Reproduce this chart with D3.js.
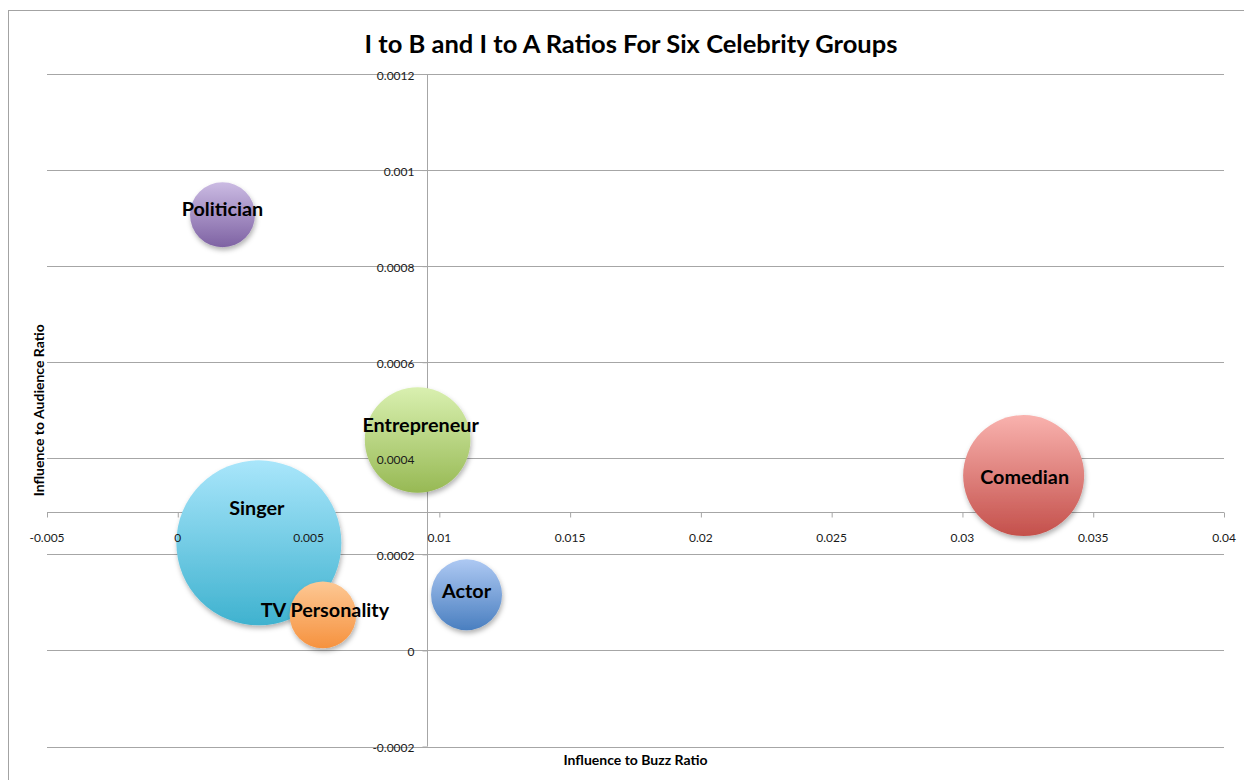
<!DOCTYPE html>
<html>
<head>
<meta charset="utf-8">
<script src="https://cdn.jsdelivr.net/npm/d3@7"></script>
<style>
  html, body { margin: 0; padding: 0; background: #fff; }
  svg { display: block; }
</style>
</head>
<body>
<svg id="chart" width="1244" height="780"></svg>
<script>
// Celebrity groups and their ratios
const groups = ["Singer", "Comedian", "Entrepreneur", "Actor", "TV Personality", "Politician"];
const buzzRatio = [0.00310, 0.03234, 0.00917, 0.01104, 0.00555, 0.00171];      // Influence to Buzz
const audienceRatio = [0.000224, 0.000364, 0.000438, 0.000116, 0.000074, 0.000907]; // Influence to Audience
const bubbleSize = [1.00, 0.538, 0.41, 0.185, 0.163, 0.155];                    // relative bubble area

const xTicks = [-0.005, 0, 0.005, 0.01, 0.015, 0.02, 0.025, 0.03, 0.035, 0.04];
const yTicks = [-0.0002, 0, 0.0002, 0.0004, 0.0006, 0.0008, 0.001, 0.0012];
const xTickLabels = ["-0.005", "0", "0.005", "0.01", "0.015", "0.02", "0.025", "0.03", "0.035", "0.04"];
const yTickLabels = ["-0.0002", "0", "0.0002", "0.0004", "0.0006", "0.0008", "0.001", "0.0012"];

// where each axis crosses the other one
const xAxisCrossesAt = 0.000288;
const yAxisCrossesAt = 0.00953;

// gradient stops: top (light) and bottom (dark) per group
const colorTop = {
  "Singer": "#a9e6fb", "Comedian": "#f9b2ae", "Entrepreneur": "#d9f0b0",
  "Actor": "#aec9f3", "TV Personality": "#fdc894", "Politician": "#cbbbe3"
};
const colorBottom = {
  "Singer": "#3fb2cf", "Comedian": "#c4504b", "Entrepreneur": "#97b954",
  "Actor": "#4a7fc0", "TV Personality": "#f6923f", "Politician": "#7e62a3"
};
// nudges for the data labels, in pixels
const labelShift = {
  "Singer": [-2, -36], "Comedian": [1, 0], "Entrepreneur": [3, -16],
  "Actor": [0, -5], "TV Personality": [2, -6], "Politician": [0, -7]
};

const font = "Lato, 'Open Sans', 'Liberation Sans', sans-serif";
const svg = d3.select("#chart");
const plot = { left: 47, right: 1224, top: 74, bottom: 746.5 };

const x = d3.scaleLinear().domain([-0.005, 0.04]).range([plot.left, plot.right]);
const y = d3.scaleLinear().domain([-0.0002, 0.0012]).range([plot.bottom, plot.top]);
const r = d3.scaleSqrt().domain([0, d3.max(bubbleSize)]).range([0, 82.5]);

const data = groups.map((g, i) => ({ name: g, x: buzzRatio[i], y: audienceRatio[i], s: bubbleSize[i] }));

// chart frame
svg.append("rect")
  .attr("x", 8.5).attr("y", 10.5).attr("width", 1300).attr("height", 800)
  .attr("fill", "#fff").attr("stroke", "#a3a3a3").attr("stroke-width", 1);

const defs = svg.append("defs");
data.forEach((d, i) => {
  const lg = defs.append("linearGradient").attr("id", "grad" + i)
    .attr("x1", 0).attr("y1", 0).attr("x2", 0).attr("y2", 1);
  lg.append("stop").attr("offset", "0%").attr("stop-color", colorTop[d.name]);
  lg.append("stop").attr("offset", "100%").attr("stop-color", colorBottom[d.name]);
});
const shadow = defs.append("filter").attr("id", "shadow")
  .attr("x", "-20%").attr("y", "-20%").attr("width", "140%").attr("height", "150%");
shadow.append("feDropShadow").attr("dx", 1).attr("dy", 3).attr("stdDeviation", 2.5)
  .attr("flood-color", "#000").attr("flood-opacity", 0.3);

// horizontal gridlines
svg.append("g").selectAll("line").data(yTicks).join("line")
  .attr("x1", plot.left).attr("x2", plot.right)
  .attr("y1", d => Math.round(y(d)) + 0.5).attr("y2", d => Math.round(y(d)) + 0.5)
  .attr("stroke", "#a6a6a6").attr("stroke-width", 1);

// horizontal axis line with outward ticks
const xAxisY = Math.round(y(xAxisCrossesAt)) + 0.5;
const xAxis = d3.axisBottom(x).tickValues(xTicks).tickFormat("").tickSize(5).tickSizeOuter(0);
const gx = svg.append("g").attr("transform", `translate(0,${xAxisY})`).call(xAxis);
gx.select(".domain").attr("stroke", "#a6a6a6").attr("d", `M${plot.left},0H${plot.right}`);
gx.selectAll(".tick line").attr("stroke", "#a6a6a6");

// vertical axis line with outward ticks
const yAxisX = Math.round(x(yAxisCrossesAt)) + 0.5;
const yAxis = d3.axisLeft(y).tickValues(yTicks).tickFormat("").tickSize(5).tickSizeOuter(0);
const gy = svg.append("g").attr("transform", `translate(${yAxisX},0)`).call(yAxis);
gy.select(".domain").attr("stroke", "#a6a6a6").attr("d", `M0,${plot.top}V${plot.bottom}`);
gy.selectAll(".tick line").attr("stroke", "#a6a6a6");

// bubbles, largest first so small ones stay on top
const sorted = data.map((d, i) => ({ ...d, i })).sort((a, b) => b.s - a.s);
svg.append("g").selectAll("circle").data(sorted).join("circle")
  .attr("cx", d => x(d.x)).attr("cy", d => y(d.y)).attr("r", d => r(d.s))
  .attr("fill", d => `url(#grad${d.i})`)
  .attr("filter", "url(#shadow)");

// tick labels above the bubbles
svg.append("g").selectAll("text").data(xTicks).join("text")
  .attr("x", d => x(d)).attr("y", xAxisY + 25)
  .attr("text-anchor", "middle").attr("dominant-baseline", "central")
  .attr("font-family", font).attr("font-size", 12).attr("fill", "#1a1a1a")
  .text((d, i) => xTickLabels[i]);

svg.append("g").selectAll("text").data(yTicks).join("text")
  .attr("x", yAxisX - 13).attr("y", d => y(d) + 1)
  .attr("text-anchor", "end").attr("dominant-baseline", "central")
  .attr("font-family", font).attr("font-size", 12).attr("fill", "#1a1a1a")
  .text((d, i) => yTickLabels[i]);

// data labels
svg.append("g").selectAll("text").data(data).join("text")
  .attr("x", d => x(d.x) + labelShift[d.name][0])
  .attr("y", d => y(d.y) + labelShift[d.name][1])
  .attr("text-anchor", "middle").attr("dominant-baseline", "central")
  .attr("font-family", font).attr("font-weight", 700).attr("font-size", 19.8)
  .attr("fill", "#000")
  .text(d => d.name);

// titles
svg.append("text")
  .attr("x", 631).attr("y", 43)
  .attr("text-anchor", "middle").attr("dominant-baseline", "central")
  .attr("font-family", font).attr("font-weight", 700).attr("font-size", 25.5)
  .text("I to B and I to A Ratios For Six Celebrity Groups");

svg.append("text")
  .attr("x", (plot.left + plot.right) / 2).attr("y", 759)
  .attr("text-anchor", "middle").attr("dominant-baseline", "central")
  .attr("font-family", font).attr("font-weight", 700).attr("font-size", 14)
  .text("Influence to Buzz Ratio");

svg.append("text")
  .attr("transform", `translate(38,${(plot.top + plot.bottom) / 2}) rotate(-90)`)
  .attr("text-anchor", "middle").attr("dominant-baseline", "central")
  .attr("font-family", font).attr("font-weight", 700).attr("font-size", 14)
  .text("Influence to Audience Ratio");
</script>
</body>
</html>
